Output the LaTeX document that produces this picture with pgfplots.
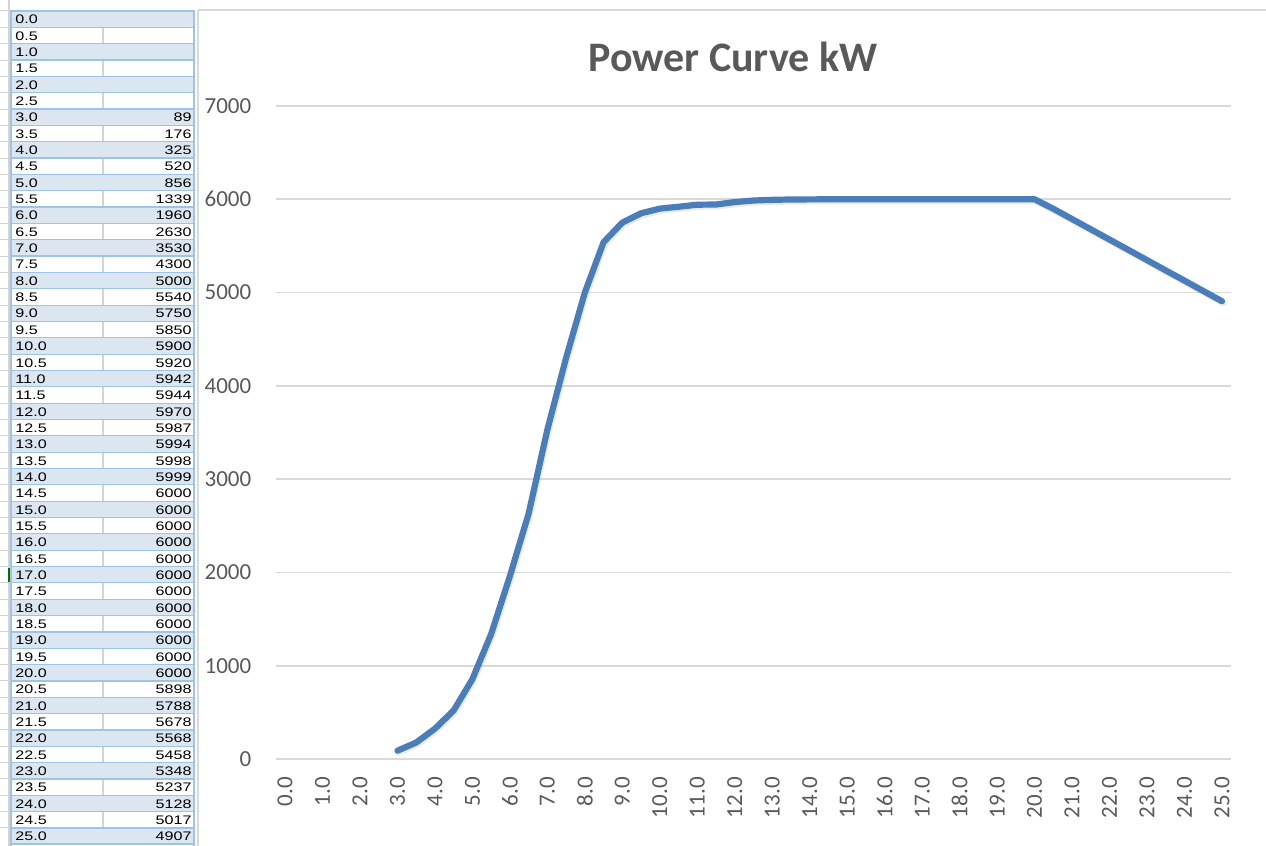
\documentclass[border=0pt]{standalone}
\usepackage{pgfplots}
\pgfplotsset{compat=1.18}
\usepackage{fontspec}
\setmainfont{Carlito}
\newfontfamily\tablefont{Liberation Sans}
\definecolor{rowblue}{HTML}{DCE6F1}
\definecolor{rowline}{HTML}{9DC3E6}
\definecolor{divgray}{HTML}{D4D4D4}
\definecolor{gridc}{HTML}{D9D9D9}
\definecolor{txtc}{HTML}{595959}
\definecolor{linec}{HTML}{4A7EBB}
\begin{document}
\begin{tikzpicture}
\useasboundingbox (0,0) rectangle (633pt,423pt);
\begin{scope}[x=0.5pt,y=-0.5pt,shift={(0,423pt)}]
  \fill[white] (0,0) rectangle (1266,846);
  \draw[divgray,line width=0.6pt] (9,0) -- (9,846);
  % chart border
  \draw[gridc,line width=1pt] (198,10) -- (1266,10);
  \draw[gridc,line width=1pt] (198,10) -- (198,846);
  \foreach \s/\v [count=\i from 0] in {0.0/{},0.5/{},1.0/{},1.5/{},2.0/{},2.5/{},3.0/89,3.5/176,4.0/325,4.5/520,5.0/856,5.5/1339,6.0/1960,6.5/2630,7.0/3530,7.5/4300,8.0/5000,8.5/5540,9.0/5750,9.5/5850,10.0/5900,10.5/5920,11.0/5942,11.5/5944,12.0/5970,12.5/5987,13.0/5994,13.5/5998,14.0/5999,14.5/6000,15.0/6000,15.5/6000,16.0/6000,16.5/6000,17.0/6000,17.5/6000,18.0/6000,18.5/6000,19.0/6000,19.5/6000,20.0/6000,20.5/5898,21.0/5788,21.5/5678,22.0/5568,22.5/5458,23.0/5348,23.5/5237,24.0/5128,24.5/5017,25.0/4907}{
    \pgfmathsetmacro\ry{11+16.34*\i}
    \pgfmathsetmacro\rb{\ry+16.34}
    \ifodd\i
      \draw[divgray,line width=0.6pt] (103,\ry) -- (103,\rb);
    \else
      \fill[rowblue] (11,\ry) rectangle (194,\rb);
    \fi
    \draw[divgray,line width=0.5pt] (0,\ry) -- (9,\ry);
    \draw[rowline,line width=0.6pt] (11,\ry) -- (194,\ry);
    \node[anchor=west,inner sep=0pt,font=\tablefont\fontsize{6.2}{7}\selectfont] at (15,\ry+8.6) {\scalebox{1.3}[1]{\s}};
    \node[anchor=east,inner sep=0pt,font=\tablefont\fontsize{6.2}{7}\selectfont] at (192,\ry+8.6) {\scalebox{1.3}[1]{\v}};
  }
  \draw[rowline,line width=0.6pt] (11,844) -- (194,844);
  \draw[rowline,line width=0.8pt] (11,10) -- (11,846);
  \draw[rowline,line width=0.8pt] (194,10) -- (194,846);
  \fill[green!45!black] (7.5,568) rectangle (9.5,582);
  % title
  \node[anchor=base,inner sep=0pt,font=\fontsize{21}{25}\bfseries\selectfont,text=txtc] at (733,72) {Power Curve kW};
\end{scope}
\begin{axis}[
  at={(137.8pt,43.5pt)}, anchor=south west,
  scale only axis, width=477.9pt, height=326.5pt,
  xmin=-0.25, xmax=25.25, ymin=0, ymax=7000,
  axis lines=left, axis line style={draw=none},
  tick style={draw=none},
  ymajorgrids, grid style={gridc,line width=0.9pt},
  ytick={0,1000,...,7000},
  yticklabels={0,1000,2000,3000,4000,5000,6000,7000},
  xtick={0,1,...,25},
  xticklabels={0.0,1.0,2.0,3.0,4.0,5.0,6.0,7.0,8.0,9.0,10.0,11.0,12.0,13.0,14.0,15.0,16.0,17.0,18.0,19.0,20.0,21.0,22.0,23.0,24.0,25.0},
  /pgf/number format/assume math mode=true,
  ticklabel style={font=\fontsize{11.5}{13}\selectfont,text=txtc},
  yticklabel style={anchor=east,xshift=-6.5pt},
  xticklabel style={rotate=90,anchor=east,xshift=-3.5pt},
  clip=false,
]
\addplot[linec, line width=3.1pt, line cap=round, line join=round,
  preaction={draw, black, opacity=0.08, line width=3.1pt, transform canvas={xshift=0.6pt,yshift=-1pt}}]
coordinates {
(3.0,89)(3.5,176)(4.0,325)(4.5,520)(5.0,856)(5.5,1339)(6.0,1960)(6.5,2630)(7.0,3530)(7.5,4300)
(8.0,5000)(8.5,5540)(9.0,5750)(9.5,5850)(10.0,5900)(10.5,5920)(11.0,5942)(11.5,5944)(12.0,5970)
(12.5,5987)(13.0,5994)(13.5,5998)(14.0,5999)(14.5,6000)(15.0,6000)(15.5,6000)(16.0,6000)
(16.5,6000)(17.0,6000)(17.5,6000)(18.0,6000)(18.5,6000)(19.0,6000)(19.5,6000)(20.0,6000)
(20.5,5898)(21.0,5788)(21.5,5678)(22.0,5568)(22.5,5458)(23.0,5348)(23.5,5237)(24.0,5128)
(24.5,5017)(25.0,4907)
};
\end{axis}
\end{tikzpicture}
\end{document}
